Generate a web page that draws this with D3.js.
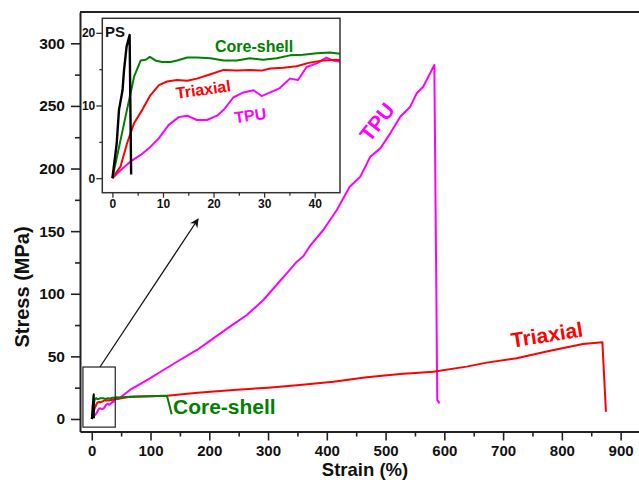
<!DOCTYPE html>
<html>
<head>
<meta charset="utf-8">
<script src="https://cdn.jsdelivr.net/npm/d3@7"></script>
<style>
  body { margin: 0; background: #fff; }
  text { font-family: Arial, "Liberation Sans", sans-serif; font-weight: bold; }
</style>
</head>
<body>
<svg width="639" height="480"></svg>
<script>
// values (strain %, stress MPa)
const tpuStrain = [0, 1.6, 3.6, 5.6, 7.5, 9.2, 11.1, 13.1, 14.8, 16.7, 18.7, 20.7, 22.0, 23.9, 25.9, 27.9, 29.5, 31.2, 33.1, 35.1, 36.7, 38.4, 40.4, 42.3, 43.6, 45.1,
  65, 94, 122, 150, 179, 207, 235, 264, 292, 320, 337, 349, 360, 371, 394, 417, 439, 457, 474, 491, 508, 525, 542, 553, 564, 583, 588, 592];
const tpuStress = [0, 1.1, 2.3, 3.2, 4.3, 5.5, 7.3, 8.4, 8.6, 8.0, 8.0, 8.6, 9.4, 11.1, 11.8, 12.1, 11.3, 11.8, 12.4, 13.7, 13.5, 15.3, 15.8, 16.6, 16.2, 16.0,
  23.2, 31.1, 39.1, 47.1, 55.1, 64.4, 73.7, 83.0, 95.0, 110, 119, 125.6, 130, 138, 150.9, 166.9, 185.5, 193.5, 209.4, 216.1, 228.1, 241.4, 249.4, 260.1, 265.3, 282.7, 15, 12.5];

const triStrain = [0, 1.6, 2.9, 4.3, 5.9, 7.5, 9.2, 10.8, 12.8, 14.8, 16.7, 19.4, 22.0, 24.6, 27.2, 29.5, 31.2, 33.8, 36.4, 39.0, 41.7, 44.3, 45.1,
  65, 128, 180, 241, 300, 354, 411, 468, 525, 581, 638, 672, 723, 780, 836, 869, 875];
const triStress = [0, 1.6, 4.8, 7.6, 9.4, 11.4, 12.8, 13.3, 13.5, 13.4, 13.7, 14.3, 14.9, 14.8, 14.9, 14.8, 15.1, 15.2, 15.4, 15.9, 16.2, 16.3, 16.2,
  17.8, 18.6, 21.0, 23.2, 25.0, 27.1, 29.8, 33.3, 35.9, 37.8, 41.8, 45.0, 48.5, 54.5, 59.9, 61.2, 5.8];

const coreStrain = [0, 2.6, 4.3, 5.6, 6.6, 7.4, 8.5, 9.8, 11.5, 12.8, 14.8, 16.7, 19.4, 22.0, 24.6, 27.2, 29.8, 32.5, 35.1, 37.7, 40.4, 43.0, 45.1,
  60, 80, 100, 122, 128, 136];
const coreStress = [0, 8.5, 14.0, 16.2, 16.3, 16.7, 16.2, 16.0, 16.0, 16.2, 16.6, 16.6, 16.5, 16.2, 16.2, 16.5, 16.3, 16.5, 16.9, 17.0, 17.2, 17.3, 17.1,
  17.6, 17.9, 18.2, 18.6, 18.5, 3.7];

const psStrain = [0, 0.85, 1.3, 2.0, 2.3, 2.8, 3.4, 3.7];
const psStress = [0, 4.8, 9.4, 12.1, 14.9, 18.1, 19.7, 0.5];

const xTicks = [0, 100, 200, 300, 400, 500, 600, 700, 800, 900];
const yTicks = [0, 50, 100, 150, 200, 250, 300];
const insetXTicks = [0, 10, 20, 30, 40];
const insetYTicks = [0, 10, 20];

const series = [
  { name: "TPU", color: "#ff00ff", xs: tpuStrain, ys: tpuStress },
  { name: "Triaxial", color: "#ff0000", xs: triStrain, ys: triStress },
  { name: "Core-shell", color: "#008000", xs: coreStrain, ys: coreStress },
  { name: "PS", color: "#000000", xs: psStrain, ys: psStress }
];
series.forEach(s => s.pts = s.xs.map((v, i) => [v, s.ys[i]]));

const svg = d3.select("svg");

/***** main plot *****/
const x = d3.scaleLinear().domain([-20, 950]).range([80, 650]);
const y = d3.scaleLinear().domain([-10, 325]).range([431.5, 12]);

svg.append("clipPath").attr("id", "mainClip")
  .append("rect").attr("x", 80).attr("y", 12).attr("width", 570).attr("height", 419.5);

const line = d3.line().x(d => x(d[0])).y(d => y(d[1]));
const plot = svg.append("g").attr("clip-path", "url(#mainClip)");
plot.selectAll("path.curve")
  .data(series)
  .join("path")
  .attr("class", "curve")
  .attr("d", d => line(d.pts))
  .attr("fill", "none")
  .attr("stroke", d => d.color)
  .attr("stroke-width", 2)
  .attr("stroke-linejoin", "round");

// zoom box near origin
plot.append("rect")
  .attr("x", x(-15)).attr("y", y(41.5))
  .attr("width", x(40) - x(-15)).attr("height", y(-6.5) - y(41.5))
  .attr("fill", "none").attr("stroke", "#222").attr("stroke-width", 1.2);

// axes
svg.append("g").attr("class", "xax").attr("transform", `translate(0,${y(-10)})`)
  .call(d3.axisBottom(x).tickValues(xTicks).tickSize(9).tickSizeOuter(0).tickPadding(5));
svg.append("g").attr("transform", `translate(0,${y(-10)})`)
  .call(d3.axisBottom(x).tickValues(d3.range(50, 950, 100)).tickSize(5).tickSizeOuter(0).tickFormat(""))
  .select(".domain").remove();
svg.append("g").attr("transform", `translate(${x(-20)},0)`)
  .call(d3.axisLeft(y).tickValues(yTicks).tickSize(9).tickSizeOuter(0).tickPadding(6));
svg.append("g").attr("transform", `translate(${x(-20)},0)`)
  .call(d3.axisLeft(y).tickValues(d3.range(25, 325, 50)).tickSize(5).tickSizeOuter(0).tickFormat(""))
  .select(".domain").remove();
svg.selectAll(".domain").attr("stroke", "#222").attr("stroke-width", 2);
svg.selectAll(".tick line").attr("stroke", "#222").attr("stroke-width", 1.6);
svg.selectAll(".tick text").attr("font-size", 15.5).attr("fill", "#111");
svg.selectAll(".xax .tick text").attr("font-size", 15);

// top border
svg.append("line").attr("x1", x(-20)).attr("x2", 639).attr("y1", y(325)).attr("y2", y(325))
  .attr("stroke", "#222").attr("stroke-width", 2);

// axis titles
svg.append("text").attr("x", 365).attr("y", 475.5).attr("text-anchor", "middle")
  .attr("font-size", 18.5).attr("fill", "#111").text("Strain (%)");
svg.append("text").attr("transform", "translate(29,287) rotate(-90)").attr("text-anchor", "middle")
  .attr("font-size", 20).attr("fill", "#111").text("Stress (MPa)");

// curve labels
svg.append("text").attr("x", 173).attr("y", 414).attr("font-size", 21).attr("fill", "#008000").text("Core-shell");
svg.append("text").attr("transform", "translate(548,342) rotate(-9)").attr("text-anchor", "middle")
  .attr("font-size", 21).attr("fill", "#ff0000").text("Triaxial");
svg.append("text").attr("transform", "translate(377,122) rotate(-52)").attr("text-anchor", "middle")
  .attr("dy", "0.35em").attr("font-size", 21).attr("fill", "#ff00ff").text("TPU");

// arrow
svg.append("defs").append("marker")
  .attr("id", "arrowHead").attr("viewBox", "0 0 10 10").attr("refX", 9).attr("refY", 5)
  .attr("markerWidth", 9).attr("markerHeight", 9).attr("markerUnits", "userSpaceOnUse")
  .attr("orient", "auto")
  .append("path").attr("d", "M0,0L10,5L0,10L3,5Z").attr("fill", "#111");
svg.append("line")
  .attr("x1", x(14)).attr("y1", y(41.5)).attr("x2", x(181)).attr("y2", y(159.7))
  .attr("stroke", "#111").attr("stroke-width", 1.3).attr("marker-end", "url(#arrowHead)");

/***** inset *****/
const ix = d3.scaleLinear().domain([-2, 45]).range([102.3, 340]);
const iy = d3.scaleLinear().domain([-2, 22]).range([192.7, 18.3]);

svg.append("rect").attr("x", ix(-2)).attr("y", iy(22))
  .attr("width", ix(45) - ix(-2)).attr("height", iy(-2) - iy(22))
  .attr("fill", "#fff");

svg.append("clipPath").attr("id", "insetClip")
  .append("rect").attr("x", ix(-2)).attr("y", iy(22))
  .attr("width", ix(45) - ix(-2)).attr("height", iy(-2) - iy(22));

const iline = d3.line().x(d => ix(d[0])).y(d => iy(d[1]));
svg.append("g").attr("clip-path", "url(#insetClip)")
  .selectAll("path")
  .data(series)
  .join("path")
  .attr("d", d => iline(d.pts.filter(p => p[0] <= 46)))
  .attr("fill", "none")
  .attr("stroke", d => d.color)
  .attr("stroke-width", d => d.name === "PS" ? 2.4 : 2)
  .attr("stroke-linejoin", "round");

svg.append("rect").attr("x", ix(-2)).attr("y", iy(22))
  .attr("width", ix(45) - ix(-2)).attr("height", iy(-2) - iy(22))
  .attr("fill", "none").attr("stroke", "#333").attr("stroke-width", 1.5);

const inAx = svg.append("g").attr("class", "inset");
inAx.append("g").attr("transform", `translate(0,${iy(-2)})`)
  .call(d3.axisBottom(ix).tickValues(insetXTicks).tickSize(5).tickPadding(2));
inAx.append("g").attr("transform", `translate(0,${iy(-2)})`)
  .call(d3.axisBottom(ix).tickValues([5, 15, 25, 35]).tickSize(3).tickFormat(""));
inAx.append("g").attr("transform", `translate(${ix(-2)},0)`)
  .call(d3.axisLeft(iy).tickValues(insetYTicks).tickSize(6).tickPadding(1));
inAx.append("g").attr("transform", `translate(${ix(-2)},0)`)
  .call(d3.axisLeft(iy).tickValues([5, 15]).tickSize(3).tickFormat(""));
inAx.selectAll(".domain").remove();
inAx.selectAll(".tick line").attr("stroke", "#333").attr("stroke-width", 1.3);
inAx.selectAll(".tick text").attr("font-size", 12).attr("fill", "#111");

// inset labels
svg.append("text").attr("x", 105).attr("y", 37).attr("font-size", 15).attr("fill", "#111").text("PS");
svg.append("text").attr("x", 215).attr("y", 52).attr("font-size", 16).attr("fill", "#008000").text("Core-shell");
svg.append("text").attr("transform", "translate(204,95) rotate(-8)").attr("text-anchor", "middle")
  .attr("font-size", 16).attr("fill", "#ff0000").text("Triaxial");
svg.append("text").attr("transform", "translate(251,121) rotate(-8)").attr("text-anchor", "middle")
  .attr("font-size", 16).attr("fill", "#ff00ff").text("TPU");
</script>
</body>
</html>
